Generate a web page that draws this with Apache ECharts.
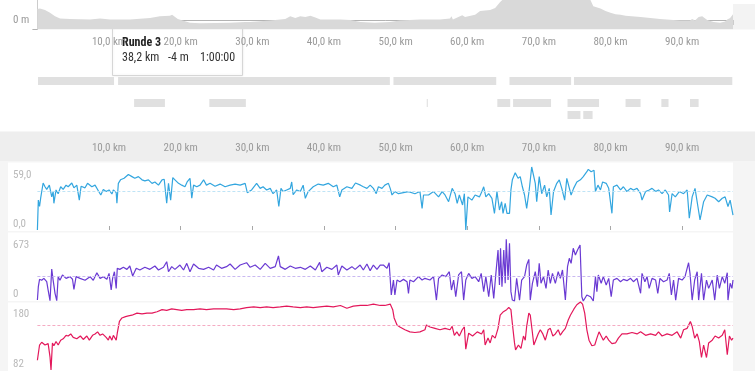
<!DOCTYPE html>
<html lang="de">
<head>
    <meta charset="UTF-8">
    <title>Ausfahrt - Profil</title>
    <script src="https://cdn.jsdelivr.net/npm/echarts@6.0.0/dist/echarts.min.js"></script>
    <style>
        * { margin: 0; padding: 0; box-sizing: border-box; }
        body { background: #fff; }
        #chart { width: 755px; height: 371px; }
    </style>
</head>
<body>
    <div id="chart"></div>

    <script>
        // Strecke
        const maxKm = 97.1;
        const xTicks = [10, 20, 30, 40, 50, 60, 70, 80, 90];
        const xTickMarks = [0, 10, 20, 30, 40, 50, 60, 70, 80, 90];

        // Höhenprofil (km, m)
        const elevKm = [0, 0.36, 1.06, 1.76, 2.46, 3.16, 4.55, 7.35, 8.74, 10.14, 12.93, 15.73, 17.1, 18.5, 18.8, 19.6,
            21.3, 22.7, 26.9, 29.0, 29.7, 32.5, 34.6, 35.3, 36.0, 36.7, 37.4, 38.1, 38.8, 39.5, 42.3, 43.7, 45.1,
            47.1, 49.2, 50.6, 53.4, 56.2, 57.6, 57.8, 58.0, 59.3, 59.7, 61.1, 61.8, 63.2, 63.9, 64.6, 64.9, 65.5,
            66.5, 67.5, 68.5, 69.5, 70.4, 71.3, 72.5, 73.5, 74.5, 75.5, 76.5, 77.2, 77.6, 78.6, 79.3, 80.0, 80.7,
            81.4, 81.6, 82.1, 84.2, 86.9, 89.7, 91.1, 91.4, 91.8, 92.3, 92.8, 93.5, 94.4, 95.3, 96.0, 96.3, 96.7, 97.1];
        const elevM = [23, 24, 21, 15, 8, 3, 2, 1, 3, 1, 1, 4, 8, 9, 11, 2,
            -6, -7, -6, -4, -4, -1, 2, 8, 4, 8, 6, 9, 5, 1, 1, 0, -4,
            -6, -4, -1, 1, 1, 3, 8, 1, 10, 6, 11, 19, 21, 25, 38, 42, 55,
            62, 58, 65, 52, 43, 55, 68, 75, 70, 60, 52, 42, 29, 24, 19, 15, 12,
            11, 12, 9, 6, 2, -1, -1, 2, -1, 6, 8, 0, -4, -6, -3, 1, 4, 12];

        // Runden und Abschnitte (km)
        const lapStart = [0.08, 11.26, 49.7, 65.9, 74.9];
        const lapEnd = [10.7, 49.2, 64.05, 74.5, 97.0];
        const segStart = [13.5, 24.0, 54.35, 64.2, 66.4, 74.0, 82.1, 87.1, 91.1, 74.0, 76.2];
        const segEnd = [17.8, 29.1, 54.5, 66.0, 71.7, 78.4, 84.2, 88.1, 92.3, 75.8, 77.5];
        const segRow = [0, 0, 0, 0, 0, 0, 0, 0, 0, 1, 1];

        // Geschwindigkeit (km/h)
        const speedKm = [0, 0.13, 0.3, 0.46, 0.8, 1.06, 1.3, 1.67, 2.0, 2.2, 2.3, 2.6, 2.9, 3.25, 3.6, 4.0, 4.3, 4.8,
            5.1, 5.5, 5.85, 6.1, 6.65, 7.0, 7.6, 8.05, 8.5, 8.85, 9.2, 9.6, 10.0, 10.4, 10.6, 11.0, 11.1, 11.3, 11.6,
            12.1, 12.7, 13.2, 13.6, 14.1, 14.6, 15.0, 15.5, 16.0, 16.4, 16.9, 17.4, 17.7, 18.05, 18.3, 18.6, 18.9,
            19.2, 19.7, 20.15, 20.6, 20.9, 21.3, 21.55, 21.8, 22.25, 22.7, 23.2, 23.6, 24.1, 24.8, 25.5, 26.2, 26.9,
            27.6, 28.3, 29.0, 29.3, 29.9, 30.6, 31.1, 31.5, 32.0, 32.5, 32.9, 33.4, 33.7, 34.0, 34.3, 34.8, 35.3,
            35.5, 35.7, 36.2, 36.7, 37.1, 37.4, 37.8, 38.5, 39.2, 39.9, 40.6, 41.3, 41.8, 42.2, 42.5, 43.2, 43.9,
            44.4, 45.1, 45.5, 46.0, 46.45, 46.9, 47.3, 47.6, 48.1, 48.5, 49.0, 49.25, 49.5, 49.9, 50.4, 51.1, 51.8,
            52.7, 53.4, 53.7, 53.9, 54.6, 55.3, 56.0, 56.5, 56.9, 57.4, 57.9, 58.3, 58.6, 58.9, 59.35, 59.6, 59.8,
            60.1, 60.65, 61.1, 61.7, 62.05, 62.3, 62.6, 63.0, 63.45, 63.8, 64.15, 64.5, 64.8, 65.0, 65.3, 65.55,
            65.9, 66.1, 66.3, 66.7, 67.1, 67.4, 67.7, 68.0, 68.3, 68.65, 69.0, 69.25, 69.5, 69.7, 70.05, 70.4, 70.8,
            71.1, 71.45, 71.7, 72.05, 72.5, 72.85, 73.2, 73.6, 73.9, 74.15, 74.5, 74.85, 75.3, 75.8, 76.2, 76.7,
            76.9, 77.3, 77.7, 77.9, 78.25, 78.6, 78.9, 79.4, 79.75, 80.2, 80.4, 80.9, 81.4, 81.8, 82.3, 82.8, 83.2,
            83.7, 84.2, 84.4, 84.9, 85.4, 85.8, 86.3, 86.7, 87.2, 87.65, 88.1, 88.25, 88.6, 89.05, 89.6, 90.2, 90.7,
            91.0, 91.4, 91.8, 92.2, 92.5, 93.0, 93.5, 94.2, 94.6, 95.1, 95.6, 96.0, 96.4, 96.7, 97.1];
        const speed = [0, 28, 22, 30, 44, 40.5, 38, 42, 31, 36, 25, 37.5, 34, 40.5, 38, 42, 40.5, 44,
            39.5, 42, 28, 41, 39.5, 43.7, 40.5, 42, 36.8, 32.8, 38, 36, 37.5, 33.7, 37.5, 35, 25, 43.7, 47,
            48.4, 52, 50, 48.4, 50, 47, 46, 47, 43.7, 45, 42, 47, 47.5, 25, 43.7, 28, 49,
            47, 43.7, 42, 40.5, 45, 48.4, 29.7, 42, 40.5, 42, 47, 42, 43.7, 41, 43, 40.5, 42,
            43, 42, 43.7, 35, 37.5, 43.7, 39, 40.5, 37.5, 39, 34, 37.5, 22, 39, 36, 37.5, 39,
            45, 33, 37.5, 36, 42, 29.7, 36, 40.5, 43, 42, 43.7, 40.5, 42, 31, 37.5, 40.5, 39,
            44, 42, 40.5, 39, 42, 39, 34, 40.5, 39, 42, 43.7, 39, 32.8, 36, 34, 35, 36,
            34, 36, 20.3, 32.8, 32.8, 36, 31, 36, 32.8, 26.5, 39, 34, 25, 32.8, 23.4, 34, 0,
            31, 28, 32.8, 31, 36, 40.5, 31, 34, 29.7, 15.6, 36, 18.7, 26.5, 15.6, 25, 15.6,
            15.6, 37.5, 47, 53.7, 48.4, 50, 40.5, 32.8, 20.3, 37.5, 59, 58.5, 43.7, 26.5, 50, 34, 42,
            31, 39, 14, 36, 43.7, 47, 39, 28, 48.4, 50, 32.8, 39, 45, 47, 50, 54.6,
            56.8, 54.6, 56, 36, 42, 37.5, 45, 43.7, 39, 15.6, 40.5, 42, 37.5, 40.5, 36, 39, 37.5,
            39, 34, 28, 36, 37.5, 39, 36, 37.5, 34, 37.5, 32.8, 17, 34, 31, 36, 34, 37.5,
            11, 31, 39, 22, 9.4, 26.5, 32.8, 31, 29.7, 26.5, 29.7, 31, 22, 28, 14];

        // Leistung (W)
        const powerKm = [0, 0.13, 0.3, 0.6, 0.9, 1.3, 1.5, 1.76, 2.0, 2.2, 2.46, 2.7, 2.9, 3.15, 3.5, 4.0, 4.55, 4.9,
            5.1, 5.4, 5.95, 6.65, 7.35, 7.8, 8.3, 8.75, 9.2, 9.7, 10.0, 10.3, 10.5, 10.75, 11.0, 11.15, 11.5, 12.0,
            12.5, 12.9, 13.3, 13.8, 14.3, 15.0, 15.7, 16.4, 16.9, 17.6, 18.05, 18.3, 18.75, 19.2, 19.9, 20.4, 20.85,
            21.3, 21.8, 22.5, 23.2, 23.9, 24.6, 25.0, 25.7, 26.4, 26.9, 27.6, 28.3, 29.2, 29.7, 30.4, 31.1, 31.8,
            32.5, 33.2, 33.65, 33.9, 34.6, 35.3, 36.0, 36.7, 37.4, 38.1, 38.8, 39.4, 39.7, 40.4, 41.1, 41.8, 42.0,
            42.5, 43.2, 43.9, 44.35, 45.05, 45.5, 46.0, 46.45, 46.9, 47.4, 47.85, 48.3, 48.8, 49.1, 49.4, 49.7,
            49.9, 50.2, 50.6, 51.1, 51.6, 51.8, 52.0, 52.5, 53.2, 53.7, 54.1, 54.8, 55.3, 55.7, 56.0, 56.5, 57.0,
            57.5, 57.8, 58.1, 58.4, 58.8, 59.2, 59.5, 59.8, 60.2, 60.65, 61.1, 61.6, 61.95, 62.3, 62.6, 63.0, 63.35,
            63.7, 64.0, 64.3, 64.5, 64.65, 64.85, 65.1, 65.3, 65.45, 65.7, 65.9, 66.1, 66.3, 66.6, 66.9, 67.3, 67.6,
            68.0, 68.3, 68.6, 68.8, 69.1, 69.5, 69.8, 70.05, 70.3, 70.65, 71.0, 71.3, 71.6, 71.9, 72.3, 72.7, 73.0,
            73.3, 73.7, 74.0, 74.25, 74.5, 74.8, 75.1, 75.4, 75.75, 76.0, 76.2, 76.7, 77.2, 77.6, 77.9, 78.1, 78.3,
            78.7, 79.0, 79.4, 79.75, 80.1, 80.4, 80.9, 81.4, 81.8, 82.3, 82.8, 83.2, 83.7, 84.2, 84.4, 84.8, 85.1,
            85.4, 85.8, 86.3, 86.6, 86.9, 87.4, 87.9, 88.2, 88.5, 88.8, 89.1, 89.5, 90.0, 90.4, 90.9, 91.1, 91.4,
            91.75, 92.1, 92.3, 92.7, 93.0, 93.4, 93.7, 94.2, 94.55, 94.9, 95.2, 95.6, 95.95, 96.3, 96.4, 96.7, 96.95, 97.1];
        const power = [10, 153, 232, 221, 242, 206, 117, 3, 342, 221, 82, 3, 260, 221, 278, 242, 260, 232,
            125, 260, 242, 221, 260, 221, 302, 242, 260, 232, 295, 117, 242, 313, 135, 349, 338, 360,
            338, 374, 267, 349, 331, 360, 338, 374, 331, 360, 420, 313, 367, 338, 384, 331, 402,
            313, 395, 349, 338, 360, 331, 384, 349, 367, 395, 338, 384, 409, 360, 384, 338, 402,
            349, 367, 481, 367, 338, 374, 349, 360, 338, 374, 331, 413, 313, 360, 338, 384, 278,
            374, 331, 367, 338, 384, 331, 395, 324, 384, 338, 384, 384, 349, 409, 64, 224,
            64, 224, 206, 231, 206, 82, 224, 206, 260, 224, 242, 224, 260, 10, 242, 278, 260,
            313, 117, 224, 46, 278, 313, 10, 224, 295, 242, 260, 206, 295, 100, 260, 46, 278,
            28, 295, 545, 171, 563, 153, 545, 189, 659, 224, 616, 100, 10, 0, 242, 10, 224,
            260, 384, 445, 10, 189, 313, 153, 402, 189, 260, 135, 331, 189, 295, 189, 313, 242,
            331, 10, 367, 456, 402, 563, 491, 545, 598, 46, 0, 64, 46, 0, 260, 100, 278,
            189, 260, 171, 242, 46, 224, 242, 206, 231, 217, 242, 206, 242, 82, 295, 206, 260,
            135, 242, 224, 82, 242, 206, 224, 295, 64, 224, 10, 242, 224, 260, 409, 295, 10,
            224, 313, 10, 295, 10, 224, 135, 224, 10, 278, 135, 260, 189, 302, 10, 189, 135, 224];

        // Herzfrequenz (bpm)
        const hrKm = [0, 0.3, 0.6, 1.06, 1.5, 1.76, 1.9, 2.1, 2.3, 2.6, 2.9, 3.25, 3.6, 4.0, 4.3, 4.65, 5.0, 5.5,
            6.0, 6.4, 6.9, 7.25, 7.7, 8.05, 8.4, 8.75, 9.1, 9.6, 9.9, 10.1, 10.4, 10.6, 11.0, 11.15, 11.45, 11.8,
            12.3, 12.7, 13.2, 13.9, 14.6, 15.3, 16.0, 16.7, 17.4, 18.05, 18.75, 19.45, 20.15, 20.85, 21.8, 22.7,
            23.6, 24.6, 25.5, 26.4, 27.4, 28.3, 29.2, 30.2, 31.1, 32.0, 32.9, 33.9, 34.8, 35.7, 36.7, 37.6, 38.5,
            39.4, 40.4, 41.3, 42.3, 43.2, 44.1, 45.1, 46.0, 46.9, 47.85, 48.5, 49.25, 49.6, 49.8, 50.2, 50.6, 51.3,
            52.0, 52.7, 53.4, 54.1, 54.3, 54.8, 55.5, 56.2, 56.9, 57.6, 57.9, 58.2, 58.55, 58.9, 59.3, 59.6, 59.8,
            60.2, 60.75, 61.4, 62.0, 62.3, 62.5, 62.9, 63.2, 63.5, 63.9, 64.3, 64.6, 65.05, 65.5, 65.8, 66.1, 66.3,
            66.6, 66.75, 67.15, 67.5, 67.85, 68.1, 68.3, 68.6, 68.8, 69.05, 69.3, 69.5, 69.9, 70.2, 70.55, 70.9,
            71.3, 71.6, 71.95, 72.3, 72.7, 73.0, 73.3, 73.7, 74.1, 74.4, 74.9, 75.3, 75.8, 76.1, 76.4, 76.7, 77.0,
            77.4, 77.8, 78.1, 78.4, 78.7, 79.0, 79.4, 79.75, 80.2, 80.7, 81.1, 81.6, 82.3, 83.0, 83.7, 84.2, 84.9,
            85.6, 86.3, 86.7, 87.2, 87.9, 88.6, 89.3, 89.8, 90.2, 90.7, 91.15, 91.4, 91.75, 92.1, 92.4, 92.7, 93.0,
            93.4, 93.7, 94.2, 94.6, 95.1, 95.6, 95.95, 96.3, 96.6, 96.9, 97.1];
        const hr = [96, 118, 122, 118, 120, 101, 82, 121, 117, 123, 118, 125, 127, 132, 131, 134, 129, 127,
            131, 126, 131, 125, 132, 134, 137, 132, 134, 129, 125, 131, 125, 132, 125, 135, 152, 157,
            159, 160, 161, 164, 163, 164, 164, 166, 169, 168, 170, 169, 168, 169, 169, 170,
            169, 170, 170, 170, 169, 170, 172, 173, 172, 173, 172, 173, 174, 173, 172, 173, 172,
            173, 174, 173, 175, 171, 174, 175, 175, 177, 175, 175, 177, 169, 157, 147, 144, 140,
            137, 136, 137, 140, 147, 144, 142, 140, 142, 140, 145, 132, 137, 131, 140, 144, 112,
            135, 131, 137, 134, 140, 118, 128, 121, 132, 128, 142, 161, 166, 169, 172, 169, 149,
            121, 111, 118, 113, 131, 125, 145, 164, 161, 140, 118, 117, 134, 140, 134, 125,
            140, 142, 131, 134, 140, 132, 137, 142, 154, 161, 170, 176, 180, 177, 164, 140, 125,
            117, 118, 128, 137, 131, 125, 131, 125, 120, 121, 128, 134, 134, 136, 134, 137, 132,
            134, 132, 137, 131, 134, 132, 137, 128, 140, 142, 152, 145, 128, 134, 123, 100, 118,
            100, 121, 125, 131, 128, 132, 140, 104, 131, 125, 128];

        // Durchschnittswerte
        const speedAvg = 36.5;
        const powerAvg = 267;
        const hrAvg = 147;

        // Achsenbeschriftung links
        const elevLabels = [0, 50];
        const speedLabels = [0, 59];
        const powerLabels = [0, 673];
        const hrLabels = [82, 180];

        const zip = (a, b) => a.map((v, i) => [v, b[i]]);
        const kmFmt = v => v.toFixed(1).replace('.', ',') + ' km';

        const FONT = "'Roboto Condensed', 'Liberation Sans Narrow', 'DejaVu Sans Condensed', Roboto, sans-serif";
        const GL = 37.4, GR = 22;

        // Label oben nach unten, unten nach oben verschieben
        function sideLabel(vals, fmt, downTop, upBottom) {
            return {
                customValues: vals,
                align: 'left',
                margin: GL - 13,
                color: '#b9b9b9',
                fontSize: 11,
                formatter: v => (v === vals[1] ? '{t|' + fmt(v) + '}' : '{b|' + fmt(v) + '}'),
                rich: {
                    t: { padding: [downTop * 2, 0, 0, 0] },
                    b: { padding: [0, 0, upBottom * 2, 0] }
                }
            };
        }

        function hiddenX(gi) {
            return {
                type: 'value', gridIndex: gi, min: 0, max: maxKm,
                axisLine: { show: false }, axisTick: { show: false },
                axisLabel: { show: false }, splitLine: { show: false }
            };
        }

        function valueY(gi, min, max, label) {
            return {
                type: 'value', gridIndex: gi, min: min, max: max,
                axisLine: { show: false }, axisTick: { show: false },
                splitLine: { show: false },
                axisLabel: label || { show: false }
            };
        }

        function gridAt(top, height) {
            return { left: GL, right: GR, top: top, height: height, outerBoundsMode: 'none', containLabel: false };
        }

        function renderBar(params, api) {
            const a = api.coord([api.value(0), api.value(2)]);
            const b = api.coord([api.value(1), api.value(2)]);
            return {
                type: 'rect',
                shape: { x: a[0], y: a[1], width: Math.max(b[0] - a[0], 1), height: 8 },
                style: { fill: '#e0e0e0' }
            };
        }

        function sensorLine(gi, km, vals, color, avg, avgColor) {
            return {
                type: 'line', xAxisIndex: gi, yAxisIndex: gi,
                data: zip(km, vals), symbol: 'none', clip: false,
                lineStyle: { color: color, width: 1.2 },
                markLine: {
                    silent: true, symbol: 'none', label: { show: false },
                    lineStyle: { color: avgColor, type: [3, 2], width: 1 },
                    data: [{ yAxis: avg }]
                }
            };
        }

        const chart = echarts.init(document.getElementById('chart'));
        chart.setOption({
            animation: false,
            textStyle: { fontFamily: FONT },
            grid: [
                gridAt(-40, 69.5),
                gridAt(77, 8),
                gridAt(99, 24),
                gridAt(167, 63),
                gridAt(238, 63),
                gridAt(302, 68)
            ],
            xAxis: [
                {
                    type: 'value', gridIndex: 0, min: 0, max: maxKm,
                    axisLine: { lineStyle: { color: '#b3b3b3', width: 1 } },
                    axisTick: { customValues: [0, maxKm], length: 5, lineStyle: { color: '#cccccc' } },
                    axisLabel: { customValues: xTicks, formatter: kmFmt, color: '#9a9a9a', fontSize: 11, margin: 7 },
                    splitLine: { show: false }
                },
                hiddenX(1),
                hiddenX(2),
                {
                    type: 'value', gridIndex: 3, min: 0, max: maxKm, position: 'top', offset: 6,
                    axisLine: { show: false },
                    axisTick: { customValues: xTickMarks, length: 4, lineStyle: { color: '#a8a8a8' } },
                    axisLabel: { customValues: xTicks, formatter: kmFmt, color: '#9a9a9a', fontSize: 11, margin: 7 },
                    splitLine: { show: false }
                },
                hiddenX(4),
                hiddenX(5)
            ],
            yAxis: [
                {
                    type: 'value', gridIndex: 0, min: -20, max: 126,
                    axisLine: { show: true, lineStyle: { color: '#cccccc' } },
                    axisTick: { show: true, customValues: [-20], length: 5, lineStyle: { color: '#b3b3b3' } },
                    axisLabel: {
                        customValues: elevLabels, formatter: v => v + ' m',
                        align: 'left', margin: GL - 13, color: '#9a9a9a', fontSize: 11
                    },
                    splitLine: { show: false }
                },
                valueY(1, 0, 1),
                { type: 'value', gridIndex: 2, min: 0, max: 2, inverse: true, show: false },
                valueY(3, 0, 59, sideLabel(speedLabels, v => v.toFixed(1).replace('.', ','), 8, 6)),
                valueY(4, 0, 673, sideLabel(powerLabels, v => String(v), 7, 7)),
                valueY(5, 82, 180, sideLabel(hrLabels, v => String(v), 12, 6))
            ],
            series: [
                {
                    type: 'line', xAxisIndex: 0, yAxisIndex: 0,
                    data: zip(elevKm, elevM), symbol: 'none',
                    lineStyle: { width: 0 },
                    areaStyle: { color: '#d9d9d9', opacity: 1, origin: 'start' }
                },
                {
                    type: 'custom', xAxisIndex: 1, yAxisIndex: 1, renderItem: renderBar,
                    data: lapStart.map((s, i) => [s, lapEnd[i], 1])
                },
                {
                    type: 'custom', xAxisIndex: 2, yAxisIndex: 2, renderItem: renderBar,
                    data: segStart.map((s, i) => [s, segEnd[i], segRow[i]])
                },
                sensorLine(3, speedKm, speed, '#33a6df', speedAvg, '#bfe4f6'),
                sensorLine(4, powerKm, power, '#6a3ad3', powerAvg, '#c9b9f1'),
                sensorLine(5, hrKm, hr, '#e3185b', hrAvg, '#f5abc3')
            ],
            graphic: [
                { type: 'rect', z: -10, silent: true, shape: { x: 733, y: 4, width: 22, height: 25.5 }, style: { fill: '#f3f3f3' } },
                { type: 'rect', z: -10, silent: true, shape: { x: 0, y: 131.5, width: 755, height: 30 }, style: { fill: '#eeeeee' } },
                { type: 'rect', z: -10, silent: true, shape: { x: 0, y: 161.5, width: 755, height: 210 }, style: { fill: '#f5f5f5' } },
                { type: 'rect', z: -9, silent: true, shape: { x: 8, y: 162.5, width: 725, height: 68.5 }, style: { fill: '#ffffff' } },
                { type: 'rect', z: -9, silent: true, shape: { x: 8, y: 232.5, width: 725, height: 68.5 }, style: { fill: '#ffffff' } },
                { type: 'rect', z: -9, silent: true, shape: { x: 8, y: 302.5, width: 725, height: 69 }, style: { fill: '#ffffff' } },
                {
                    type: 'group', z: 100, silent: true,
                    children: [
                        {
                            type: 'rect', shape: { x: 112.5, y: 24.5, width: 130, height: 51 },
                            style: { fill: '#ffffff', stroke: '#d6d6d6', lineWidth: 1, shadowBlur: 3, shadowColor: 'rgba(0,0,0,0.08)' }
                        },
                        { type: 'text', x: 122, y: 43, style: { text: 'Runde 3', font: 'bold 12px ' + FONT, fill: '#222', verticalAlign: 'middle' } },
                        { type: 'text', x: 122, y: 58, style: { text: '38,2 km', font: '12px ' + FONT, fill: '#333', verticalAlign: 'middle' } },
                        { type: 'text', x: 168, y: 58, style: { text: '-4 m', font: '12px ' + FONT, fill: '#333', verticalAlign: 'middle' } },
                        { type: 'text', x: 200, y: 58, style: { text: '1:00:00', font: '12px ' + FONT, fill: '#333', verticalAlign: 'middle' } }
                    ]
                }
            ]
        });
    </script>
</body>
</html>
